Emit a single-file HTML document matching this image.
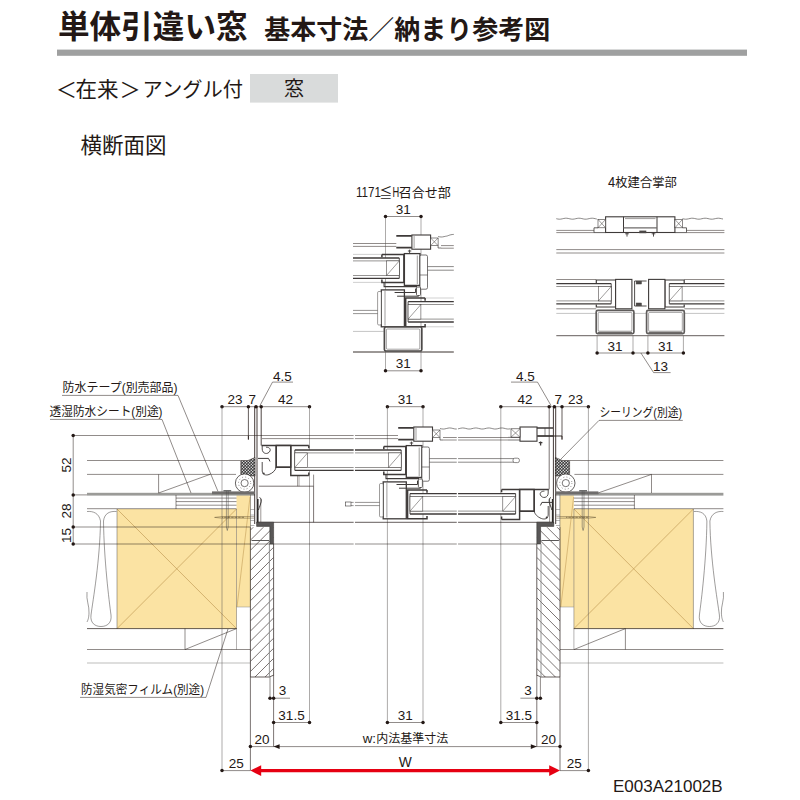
<!DOCTYPE html>
<html><head><meta charset="utf-8"><title>drawing</title>
<style>
html,body{margin:0;padding:0;background:#fff;}
body{width:800px;height:800px;overflow:hidden;font-family:"Liberation Sans",sans-serif;}
svg{display:block}
text{font-family:"Liberation Sans",sans-serif;}
text.jp{font-family:"Liberation Sans","Noto Sans CJK JP",sans-serif;}
text.dim{font-size:13.5px;fill:#231815;text-anchor:middle;}
</style></head><body>
<svg width="800" height="800" viewBox="0 0 800 800">
<rect width="800" height="800" fill="#fff"/>
<text class="jp" x="58" y="38.3" font-size="31.6" font-weight="bold" fill="#231815">単体引違い窓</text>
<text class="jp" x="264.3" y="39" font-size="26" font-weight="bold" fill="#231815">基本寸法<tspan font-weight="normal">／</tspan>納まり参考図</text>
<rect x="57" y="49.6" width="690" height="6.2" fill="#9fa0a0" stroke="none" stroke-width="0.6"/>
<text class="jp" x="56" y="96.5" font-size="21" fill="#231815">＜</text>
<text class="jp" x="75.5" y="96.5" font-size="21.5" fill="#231815">在来</text>
<text class="jp" x="119.5" y="96.5" font-size="21" fill="#231815">＞</text>
<text class="jp" x="142.5" y="96.5" font-size="20.5" fill="#231815" textLength="100.5" lengthAdjust="spacingAndGlyphs">アングル付</text>
<rect x="250" y="74" width="88" height="28.6" fill="#d9dbdb" stroke="none" stroke-width="0.6"/>
<text class="jp" x="294" y="96.3" font-size="20" fill="#231815" text-anchor="middle">窓</text>
<text class="jp" x="80.5" y="153.3" font-size="21.5" fill="#231815">横断面図</text>
<defs>
<pattern id="dots" width="3" height="3" patternUnits="userSpaceOnUse"><rect width="3" height="3" fill="#3a3a3a"/><circle cx="0.75" cy="0.75" r="0.72" fill="#f2f2f2"/><circle cx="2.25" cy="2.25" r="0.72" fill="#f2f2f2"/></pattern>
<pattern id="hatL" width="7.4" height="7.4" patternUnits="userSpaceOnUse"><rect width="7.4" height="7.4" fill="#dcdddd"/><path d="M-1 8.4L8.4 -1M-1 1L1 -1M6.4 8.4L8.4 6.4" stroke="#231815" stroke-width="0.55"/></pattern>
<pattern id="hatR" width="7.4" height="7.4" patternUnits="userSpaceOnUse"><rect width="7.4" height="7.4" fill="#dcdddd"/><path d="M-1 -1L8.4 8.4M-1 6.4L1 8.4M6.4 -1L8.4 1" stroke="#231815" stroke-width="0.55"/></pattern>
</defs>
<rect x="117" y="509" width="119.5" height="119.6" fill="#fbe3a3" stroke="none" stroke-width="0.6"/>
<rect x="236.5" y="494.5" width="13.900000000000006" height="112.5" fill="#fbe3a3" stroke="none" stroke-width="0.6"/>
<line x1="117" y1="509" x2="236.5" y2="628.6" stroke="#b8904a" stroke-width="0.6"/>
<line x1="117" y1="628.6" x2="236.5" y2="509" stroke="#b8904a" stroke-width="0.6"/>
<line x1="250" y1="497" x2="237" y2="607" stroke="#b8904a" stroke-width="0.5"/>
<path d="M117 509V628.6" stroke="#5a5655" stroke-width="0.5" fill="none"/>
<path d="M236.5 509V649.5" stroke="#5a5655" stroke-width="0.45" fill="none"/>
<rect x="573.9" y="509" width="119.5" height="119.6" fill="#fbe3a3" stroke="none" stroke-width="0.6"/>
<rect x="560.0" y="494.5" width="13.899999999999977" height="112.5" fill="#fbe3a3" stroke="none" stroke-width="0.6"/>
<line x1="693.4" y1="509" x2="573.9" y2="628.6" stroke="#b8904a" stroke-width="0.6"/>
<line x1="693.4" y1="628.6" x2="573.9" y2="509" stroke="#b8904a" stroke-width="0.6"/>
<line x1="573.6" y1="497" x2="560.8" y2="607" stroke="#b8904a" stroke-width="0.5"/>
<path d="M693.4 509V628.6" stroke="#5a5655" stroke-width="0.5" fill="none"/>
<path d="M573.9 509V649.5" stroke="#5a5655" stroke-width="0.45" fill="none"/>
<line x1="73.6" y1="435.5" x2="255" y2="435.5" stroke="#231815" stroke-width="0.5"/>
<line x1="87" y1="460.5" x2="240.6" y2="460.5" stroke="#231815" stroke-width="0.5"/>
<line x1="87" y1="474.4" x2="236" y2="474.4" stroke="#231815" stroke-width="0.5"/>
<rect x="87" y="492.8" width="168" height="2.8" fill="#9b9b98" stroke="none" stroke-width="0.6"/>
<line x1="176" y1="498.1" x2="236.5" y2="498.1" stroke="#231815" stroke-width="0.5"/>
<line x1="176" y1="501.6" x2="236.5" y2="501.6" stroke="#231815" stroke-width="0.5"/>
<line x1="176" y1="505.2" x2="236.5" y2="505.2" stroke="#231815" stroke-width="0.5"/>
<line x1="176" y1="495" x2="176" y2="509" stroke="#231815" stroke-width="0.5"/>
<line x1="87" y1="508.7" x2="236.5" y2="508.7" stroke="#231815" stroke-width="0.5"/>
<line x1="87" y1="628.6" x2="236.5" y2="628.6" stroke="#231815" stroke-width="0.7"/>
<line x1="87" y1="649.5" x2="250.4" y2="649.5" stroke="#231815" stroke-width="0.5"/>
<line x1="87" y1="663" x2="250.4" y2="663" stroke="#7a7877" stroke-width="0.5"/>
<line x1="185" y1="628.6" x2="185" y2="649.5" stroke="#231815" stroke-width="0.5"/>
<line x1="185" y1="649.5" x2="236.5" y2="628.6" stroke="#231815" stroke-width="0.5"/>
<line x1="236.5" y1="607" x2="250.4" y2="607" stroke="#898989" stroke-width="0.5"/>
<line x1="723.4" y1="460.5" x2="569.8" y2="460.5" stroke="#231815" stroke-width="0.5"/>
<line x1="723.4" y1="474.4" x2="574.4" y2="474.4" stroke="#231815" stroke-width="0.5"/>
<rect x="555.4" y="492.8" width="168.0" height="2.8" fill="#9b9b98" stroke="none" stroke-width="0.6"/>
<line x1="634.4" y1="498.1" x2="573.9" y2="498.1" stroke="#231815" stroke-width="0.5"/>
<line x1="634.4" y1="501.6" x2="573.9" y2="501.6" stroke="#231815" stroke-width="0.5"/>
<line x1="634.4" y1="505.2" x2="573.9" y2="505.2" stroke="#231815" stroke-width="0.5"/>
<line x1="634.4" y1="495" x2="634.4" y2="509" stroke="#231815" stroke-width="0.5"/>
<line x1="723.4" y1="508.7" x2="573.9" y2="508.7" stroke="#231815" stroke-width="0.5"/>
<line x1="723.4" y1="628.6" x2="573.9" y2="628.6" stroke="#231815" stroke-width="0.7"/>
<line x1="723.4" y1="649.5" x2="560.0" y2="649.5" stroke="#231815" stroke-width="0.5"/>
<line x1="723.4" y1="663" x2="560.0" y2="663" stroke="#7a7877" stroke-width="0.5"/>
<line x1="625.4" y1="628.6" x2="625.4" y2="649.5" stroke="#231815" stroke-width="0.5"/>
<line x1="574" y1="649.5" x2="625.4" y2="628.6" stroke="#231815" stroke-width="0.5"/>
<line x1="573.9" y1="607" x2="560.0" y2="607" stroke="#898989" stroke-width="0.5"/>
<line x1="158.6" y1="474.4" x2="158.6" y2="493" stroke="#231815" stroke-width="0.5"/>
<line x1="158.6" y1="493" x2="210" y2="474.4" stroke="#231815" stroke-width="0.5"/>
<line x1="651.5" y1="474.4" x2="651.5" y2="493" stroke="#231815" stroke-width="0.5"/>
<line x1="651.5" y1="474.4" x2="598" y2="493" stroke="#231815" stroke-width="0.5"/>
<line x1="73.2" y1="494.9" x2="87" y2="494.9" stroke="#231815" stroke-width="0.5"/>
<line x1="73.6" y1="527" x2="250.4" y2="527" stroke="#231815" stroke-width="0.5"/>
<line x1="73.6" y1="544" x2="250.4" y2="544" stroke="#231815" stroke-width="0.5"/>
<path d="M87 511.5C93 511 99 513 100.5 521C100 560 93 600 91 615C90 623 95 626.5 101 626.5C107 626.5 112 623 111 615C109 600 104 560 103.5 521C104.5 513 110 511 116.5 511.5" stroke="#3e3a39" stroke-width="0.5" fill="none"/>
<path d="M87 592C86 600 89.5 606 89 613C88.8 618 88 620 87 622" stroke="#3e3a39" stroke-width="0.5" fill="none"/>
<path d="M723.4 511.5C717.4 511 711.4 513 709.9 521C710.4 560 717.4 600 719.4 615C720.4 623 715.4 626.5 709.4 626.5C703.4 626.5 698.4 623 699.4 615C701.4 600 706.4 560 706.9 521C705.9 513 700.4 511 693.9 511.5" stroke="#3e3a39" stroke-width="0.5" fill="none"/>
<path d="M723.4 592C724.4 600 720.9 606 721.4 613C721.6 618 722.4 620 723.4 622" stroke="#3e3a39" stroke-width="0.5" fill="none"/>
<clipPath id="hcL"><path d="M250.4 527.2H273.6V675.2L269.2 677H250.4Z"/></clipPath>
<clipPath id="hcR"><path d="M560 527.2H536.8V675.2L541.2 677H560Z"/></clipPath>
<path d="M250.4 520.0L273.6 496.8M250.4 530.1L273.6 506.9M250.4 540.2L273.6 517.0M250.4 550.3L273.6 527.1M250.4 560.4L273.6 537.2M250.4 570.5L273.6 547.3M250.4 580.6L273.6 557.4M250.4 590.7L273.6 567.5M250.4 600.8L273.6 577.6M250.4 610.9L273.6 587.7M250.4 621.0L273.6 597.8M250.4 631.1L273.6 607.9M250.4 641.2L273.6 618.0M250.4 651.3L273.6 628.1M250.4 661.4L273.6 638.2M250.4 671.5L273.6 648.3M250.4 681.6L273.6 658.4M250.4 691.7L273.6 668.5M250.4 701.8L273.6 678.6M250.4 711.9L273.6 688.7" stroke="#231815" stroke-width="0.6" clip-path="url(#hcL)"/>
<path d="M560 520.0L536.8 496.8M560 530.1L536.8 506.9M560 540.2L536.8 517.0M560 550.3L536.8 527.1M560 560.4L536.8 537.2M560 570.5L536.8 547.3M560 580.6L536.8 557.4M560 590.7L536.8 567.5M560 600.8L536.8 577.6M560 610.9L536.8 587.7M560 621.0L536.8 597.8M560 631.1L536.8 607.9M560 641.2L536.8 618.0M560 651.3L536.8 628.1M560 661.4L536.8 638.2M560 671.5L536.8 648.3M560 681.6L536.8 658.4M560 691.7L536.8 668.5M560 701.8L536.8 678.6M560 711.9L536.8 688.7" stroke="#231815" stroke-width="0.6" clip-path="url(#hcR)"/>
<path d="M250.4 527.2V677H269.2L273.6 675.2V544" stroke="#231815" stroke-width="0.7" fill="none"/>
<path d="M560 527.2V677H541.2L536.8 675.2V544" stroke="#231815" stroke-width="0.7" fill="none"/>
<line x1="269.4" y1="544" x2="269.4" y2="677" stroke="#8a8a8a" stroke-width="0.9"/>
<line x1="541" y1="544" x2="541" y2="677" stroke="#8a8a8a" stroke-width="0.9"/>
<line x1="222" y1="406.7" x2="309.5" y2="406.7" stroke="#231815" stroke-width="0.5"/>
<line x1="387.4" y1="406.7" x2="423" y2="406.7" stroke="#231815" stroke-width="0.5"/>
<line x1="500.8" y1="406.7" x2="588.4" y2="406.7" stroke="#231815" stroke-width="0.5"/>
<circle cx="222" cy="406.7" r="1.75" fill="#231815"/>
<circle cx="248.4" cy="406.7" r="1.75" fill="#231815"/>
<circle cx="256" cy="406.7" r="1.75" fill="#231815"/>
<circle cx="261.2" cy="406.7" r="1.75" fill="#231815"/>
<circle cx="309.5" cy="406.7" r="1.75" fill="#231815"/>
<circle cx="387.4" cy="406.7" r="1.75" fill="#231815"/>
<circle cx="423" cy="406.7" r="1.75" fill="#231815"/>
<circle cx="500.8" cy="406.7" r="1.75" fill="#231815"/>
<circle cx="549.2" cy="406.7" r="1.75" fill="#231815"/>
<circle cx="554.4" cy="406.7" r="1.75" fill="#231815"/>
<circle cx="562" cy="406.7" r="1.75" fill="#231815"/>
<circle cx="588.4" cy="406.7" r="1.75" fill="#231815"/>
<line x1="222" y1="406.7" x2="222" y2="770.6" stroke="#5a5655" stroke-width="0.5"/>
<line x1="588.4" y1="406.7" x2="588.4" y2="770.6" stroke="#5a5655" stroke-width="0.5"/>
<line x1="248.4" y1="406.7" x2="248.4" y2="439.5" stroke="#231815" stroke-width="0.7"/>
<line x1="562" y1="406.7" x2="562" y2="439.5" stroke="#231815" stroke-width="0.7"/>
<line x1="261.2" y1="406.7" x2="261.2" y2="445.5" stroke="#231815" stroke-width="0.8"/>
<line x1="549.2" y1="406.7" x2="549.2" y2="489.4" stroke="#231815" stroke-width="0.6"/>
<line x1="309.5" y1="406.7" x2="309.5" y2="722.5" stroke="#5a5655" stroke-width="0.5"/>
<line x1="500.8" y1="406.7" x2="500.8" y2="722.5" stroke="#5a5655" stroke-width="0.5"/>
<line x1="387.4" y1="406.7" x2="387.4" y2="722.5" stroke="#5a5655" stroke-width="0.5"/>
<line x1="423" y1="406.7" x2="423" y2="722.5" stroke="#5a5655" stroke-width="0.5"/>
<text class="dim" x="235" y="404">23</text>
<text class="dim" x="252.3" y="404">7</text>
<text class="dim" x="285.5" y="404">42</text>
<text class="dim" x="405.2" y="404">31</text>
<text class="dim" x="525" y="404">42</text>
<text class="dim" x="558.3" y="404">7</text>
<text class="dim" x="575.5" y="404">23</text>
<text class="dim" x="282.5" y="380.6">4.5</text>
<line x1="272.5" y1="382.1" x2="293" y2="382.1" stroke="#231815" stroke-width="0.5"/>
<line x1="272.5" y1="382.1" x2="260" y2="405.5" stroke="#231815" stroke-width="0.5"/>
<text class="dim" x="525.5" y="380.6">4.5</text>
<line x1="511" y1="382.1" x2="537.5" y2="382.1" stroke="#231815" stroke-width="0.5"/>
<line x1="537.5" y1="382.1" x2="551" y2="405.5" stroke="#231815" stroke-width="0.5"/>
<line x1="73.2" y1="435.5" x2="73.2" y2="544" stroke="#231815" stroke-width="0.5"/>
<circle cx="73.2" cy="435.5" r="1.75" fill="#231815"/>
<circle cx="73.2" cy="494.9" r="1.75" fill="#231815"/>
<circle cx="73.2" cy="527" r="1.75" fill="#231815"/>
<circle cx="73.2" cy="544" r="1.75" fill="#231815"/>
<text class="dim" transform="translate(71 465) rotate(-90)" x="0" y="0">52</text>
<text class="dim" transform="translate(71 511) rotate(-90)" x="0" y="0">28</text>
<text class="dim" transform="translate(71 535.5) rotate(-90)" x="0" y="0">15</text>
<line x1="250.4" y1="677" x2="250.4" y2="770.6" stroke="#231815" stroke-width="0.6"/>
<line x1="560" y1="677" x2="560" y2="770.6" stroke="#231815" stroke-width="0.6"/>
<line x1="270" y1="677" x2="270" y2="698.2" stroke="#231815" stroke-width="0.5"/>
<line x1="273.6" y1="675" x2="273.6" y2="746.6" stroke="#231815" stroke-width="0.6"/>
<line x1="540.4" y1="677" x2="540.4" y2="698.2" stroke="#231815" stroke-width="0.5"/>
<line x1="536.8" y1="675" x2="536.8" y2="746.6" stroke="#231815" stroke-width="0.6"/>
<line x1="270" y1="698.2" x2="290" y2="698.2" stroke="#231815" stroke-width="0.5"/>
<circle cx="270" cy="698.2" r="1.75" fill="#231815"/>
<circle cx="273.6" cy="698.2" r="1.75" fill="#231815"/>
<line x1="520.4" y1="698.2" x2="540.4" y2="698.2" stroke="#231815" stroke-width="0.5"/>
<circle cx="540.4" cy="698.2" r="1.75" fill="#231815"/>
<circle cx="536.8" cy="698.2" r="1.75" fill="#231815"/>
<text class="dim" x="282.4" y="695.3">3</text>
<text class="dim" x="528" y="695.3">3</text>
<line x1="273.6" y1="722.5" x2="309.5" y2="722.5" stroke="#231815" stroke-width="0.5"/>
<circle cx="273.6" cy="722.5" r="1.75" fill="#231815"/>
<circle cx="309.5" cy="722.5" r="1.75" fill="#231815"/>
<line x1="500.8" y1="722.5" x2="536.8" y2="722.5" stroke="#231815" stroke-width="0.5"/>
<circle cx="500.8" cy="722.5" r="1.75" fill="#231815"/>
<circle cx="536.8" cy="722.5" r="1.75" fill="#231815"/>
<line x1="387.4" y1="722.5" x2="423" y2="722.5" stroke="#231815" stroke-width="0.5"/>
<circle cx="387.4" cy="722.5" r="1.75" fill="#231815"/>
<circle cx="423" cy="722.5" r="1.75" fill="#231815"/>
<text class="dim" x="291.5" y="719.6">31.5</text>
<text class="dim" x="518.8" y="719.6">31.5</text>
<text class="dim" x="405.2" y="719.6">31</text>
<line x1="250.4" y1="746.6" x2="536.8" y2="746.6" stroke="#231815" stroke-width="0.5"/>
<line x1="536.8" y1="746.6" x2="560" y2="746.6" stroke="#231815" stroke-width="0.5"/>
<circle cx="250.4" cy="746.6" r="1.75" fill="#231815"/>
<circle cx="560" cy="746.6" r="1.75" fill="#231815"/>
<path d="M273.6 746.6L279.6 744.2V749Z" fill="#231815"/>
<path d="M536.8 746.6L530.8 744.2V749Z" fill="#231815"/>
<text class="dim" x="262" y="744">20</text>
<text class="dim" x="548.4" y="744">20</text>
<text class="jp" x="376.3" y="742.6" font-size="12" fill="#231815">内法基準寸法</text>
<text x="369.3" y="743.2" font-size="13.3" fill="#231815" text-anchor="middle">w:</text>
<line x1="222" y1="770.6" x2="250.4" y2="770.6" stroke="#231815" stroke-width="0.5"/>
<line x1="560" y1="770.6" x2="588.4" y2="770.6" stroke="#231815" stroke-width="0.5"/>
<circle cx="222" cy="770.6" r="1.75" fill="#231815"/>
<circle cx="588.4" cy="770.6" r="1.75" fill="#231815"/>
<text class="dim" x="236.2" y="768.1">25</text>
<text class="dim" x="574.2" y="768.1">25</text>
<path d="M258 768.9H552.4V772.3H258Z" fill="#e60012"/>
<path d="M250.4 770.6L261.2 765.2V776Z" fill="#e60012"/>
<path d="M560 770.6L549.2 765.2V776Z" fill="#e60012"/>
<text x="405.2" y="767.2" font-size="13.8" fill="#231815" text-anchor="middle">W</text>
<text x="613" y="792" font-size="17" fill="#231815">E003A21002B</text>
<text class="jp" x="62.5" y="392" font-size="12.5" fill="#231815" textLength="115" lengthAdjust="spacingAndGlyphs">防水テープ(別売部品)</text>
<line x1="62" y1="395.4" x2="178" y2="395.4" stroke="#231815" stroke-width="0.5"/>
<line x1="178" y1="395.4" x2="218" y2="491.5" stroke="#231815" stroke-width="0.5"/>
<text class="jp" x="49.5" y="416" font-size="12.5" fill="#231815" textLength="113" lengthAdjust="spacingAndGlyphs">透湿防水シート(別途)</text>
<line x1="50" y1="419.4" x2="162" y2="419.4" stroke="#231815" stroke-width="0.5"/>
<line x1="162" y1="419.4" x2="191" y2="493" stroke="#231815" stroke-width="0.5"/>
<text class="jp" x="599.5" y="416.8" font-size="12.5" fill="#231815" textLength="82.5" lengthAdjust="spacingAndGlyphs">シーリング(別途)</text>
<line x1="599" y1="420.4" x2="682.8" y2="420.4" stroke="#231815" stroke-width="0.5"/>
<line x1="599" y1="420.4" x2="561" y2="459" stroke="#231815" stroke-width="0.5"/>
<text class="jp" x="81" y="694.2" font-size="12.5" fill="#231815" textLength="123" lengthAdjust="spacingAndGlyphs">防湿気密フィルム(別途)</text>
<line x1="80" y1="697.4" x2="206" y2="697.4" stroke="#231815" stroke-width="0.5"/>
<line x1="206" y1="697.4" x2="228" y2="629" stroke="#231815" stroke-width="0.5"/>
<line x1="255" y1="435.5" x2="398" y2="435.5" stroke="#231815" stroke-width="0.5"/>
<line x1="262" y1="438.6" x2="398" y2="438.6" stroke="#231815" stroke-width="0.5"/>
<line x1="443" y1="437.5" x2="508" y2="437.5" stroke="#231815" stroke-width="0.5"/>
<line x1="443" y1="440" x2="508" y2="440" stroke="#231815" stroke-width="0.5"/>
<line x1="258" y1="522.3" x2="552.4" y2="522.3" stroke="#231815" stroke-width="0.7"/>
<line x1="250.4" y1="544" x2="536.8" y2="544" stroke="#231815" stroke-width="0.5"/>
<line x1="254.7" y1="406.7" x2="254.7" y2="524" stroke="#231815" stroke-width="0.85"/>
<line x1="257.0" y1="406.7" x2="257.0" y2="499" stroke="#231815" stroke-width="0.85"/>
<path d="M248.4 436V439.6" stroke="#231815" stroke-width="0.8" fill="none"/>
<path d="M258.8 486.2H313.6V522.3" stroke="#231815" stroke-width="0.6" fill="none"/>
<line x1="313.6" y1="474.6" x2="313.6" y2="486.2" stroke="#231815" stroke-width="0.5"/>
<line x1="297.5" y1="475.6" x2="297.5" y2="486.2" stroke="#231815" stroke-width="0.4"/>
<line x1="299" y1="475.6" x2="299" y2="486.2" stroke="#231815" stroke-width="0.4"/>
<line x1="260.8" y1="499" x2="260.8" y2="522" stroke="#231815" stroke-width="0.45"/>
<path d="M257.6 499V523.4" stroke="#2b2827" stroke-width="1.9" fill="none"/>
<path d="M259.5 497.5C261.5 498 261.8 501 260.5 504C259.6 507 259 508 258.5 510" stroke="#2b2827" stroke-width="0.9" fill="none"/>
<path d="M256.6 522.2H273.6V544H269.8V526.4H256.6Z" fill="#595757" stroke="#2b2827" stroke-width="0.5"/>
<path d="M214.6 517.4L222 516.6H254M214.6 517.4L222 518.2H254" stroke="#5a4a2a" stroke-width="0.45" fill="none"/>
<line x1="222.5" y1="517.4" x2="244" y2="517.4" stroke="#5a4a2a" stroke-width="1.4" stroke-dasharray="0.5 0.9"/>
<line x1="250.5" y1="494.5" x2="250.5" y2="527.5" stroke="#4a4a4a" stroke-width="0.5"/>
<line x1="250.5" y1="509.5" x2="254.5" y2="509.5" stroke="#4a4a4a" stroke-width="0.4"/>
<line x1="250.5" y1="515" x2="254.5" y2="515" stroke="#4a4a4a" stroke-width="0.4"/>
<line x1="250.5" y1="520.5" x2="254.5" y2="520.5" stroke="#4a4a4a" stroke-width="0.4"/>
<line x1="250.5" y1="525.5" x2="254.5" y2="525.5" stroke="#4a4a4a" stroke-width="0.4"/>
<line x1="251.5" y1="540.5" x2="269" y2="540.5" stroke="#595757" stroke-width="1.0"/>
<path d="M255 457.5L248 460.5H240.8V474.2L246 476H255Z" fill="url(#dots)" stroke="#231815" stroke-width="0.5"/>
<circle cx="244.6" cy="483.1" r="9.2" fill="#fff" stroke="#3e3a39" stroke-width="0.8"/>
<circle cx="244.6" cy="483.1" r="6.1" fill="none" stroke="#3e3a39" stroke-width="0.7" stroke-dasharray="0.8 2.4"/>
<circle cx="244.6" cy="483.1" r="3.6" fill="#fff" stroke="#3e3a39" stroke-width="0.7"/>
<rect x="212" y="491.4" width="43" height="2.9" fill="#6f6d6c" stroke="none" stroke-width="0.6"/>
<path d="M226.4 491V527L227.3 530.5L228.2 527V491" stroke="#4a4a4a" stroke-width="0.5" fill="none"/>
<line x1="223.4" y1="490.8" x2="231.2" y2="490.8" stroke="#4a4a4a" stroke-width="1.2"/>
<line x1="555.7" y1="406.7" x2="555.7" y2="524" stroke="#231815" stroke-width="0.85"/>
<line x1="553.4" y1="406.7" x2="553.4" y2="499" stroke="#231815" stroke-width="0.85"/>
<path d="M562.0 436V439.6" stroke="#231815" stroke-width="0.8" fill="none"/>
<line x1="549.6" y1="499" x2="549.6" y2="522" stroke="#231815" stroke-width="0.45"/>
<path d="M552.8 499V523.4" stroke="#2b2827" stroke-width="1.9" fill="none"/>
<path d="M550.9 497.5C548.9 498 548.6 501 549.9 504C550.8 507 551.4 508 551.9 510" stroke="#2b2827" stroke-width="0.9" fill="none"/>
<path d="M553.8 522.2H536.8V544H540.6V526.4H553.8Z" fill="#595757" stroke="#2b2827" stroke-width="0.5"/>
<path d="M595.8 517.4L588.4 516.6H556.4M595.8 517.4L588.4 518.2H556.4" stroke="#5a4a2a" stroke-width="0.45" fill="none"/>
<line x1="587.9" y1="517.4" x2="566.4" y2="517.4" stroke="#5a4a2a" stroke-width="1.4" stroke-dasharray="0.5 0.9"/>
<line x1="559.9" y1="494.5" x2="559.9" y2="527.5" stroke="#4a4a4a" stroke-width="0.5"/>
<line x1="559.9" y1="509.5" x2="555.9" y2="509.5" stroke="#4a4a4a" stroke-width="0.4"/>
<line x1="559.9" y1="515" x2="555.9" y2="515" stroke="#4a4a4a" stroke-width="0.4"/>
<line x1="559.9" y1="520.5" x2="555.9" y2="520.5" stroke="#4a4a4a" stroke-width="0.4"/>
<line x1="559.9" y1="525.5" x2="555.9" y2="525.5" stroke="#4a4a4a" stroke-width="0.4"/>
<line x1="558.9" y1="540.5" x2="541.4" y2="540.5" stroke="#595757" stroke-width="1.0"/>
<path d="M555.4 457.5L562.4 460.5H569.6V474.2L564.4 476H555.4Z" fill="url(#dots)" stroke="#231815" stroke-width="0.5"/>
<circle cx="565.8" cy="483.1" r="9.2" fill="#fff" stroke="#3e3a39" stroke-width="0.8"/>
<circle cx="565.8" cy="483.1" r="6.1" fill="none" stroke="#3e3a39" stroke-width="0.7" stroke-dasharray="0.8 2.4"/>
<circle cx="565.8" cy="483.1" r="3.6" fill="#fff" stroke="#3e3a39" stroke-width="0.7"/>
<rect x="555.4" y="491.4" width="43.0" height="2.9" fill="#6f6d6c" stroke="none" stroke-width="0.6"/>
<path d="M584.0 491V527L583.1 530.5L582.2 527V491" stroke="#4a4a4a" stroke-width="0.5" fill="none"/>
<line x1="587.0" y1="490.8" x2="579.2" y2="490.8" stroke="#4a4a4a" stroke-width="1.2"/>
<line x1="538" y1="436" x2="562" y2="436" stroke="#231815" stroke-width="0.9"/>
<path d="M261.6 445.4H308.8M276.2 445.4V467.2H291M290.8 445.4V475.4H308.8" stroke="#3e3a39" stroke-width="1.45" fill="none"/>
<rect x="276.2" y="445.4" width="14.6" height="21.8" fill="none" stroke="#3e3a39" stroke-width="1.3"/>
<path d="M308.8 445.4V448.2M308.8 475.4V472.4" stroke="#3e3a39" stroke-width="1.45" fill="none"/>
<path d="M262.2 445.4V449C262.2 454 268 455 270 451C271 448.5 268.5 447 266 447.2" stroke="#3e3a39" stroke-width="0.9" fill="none"/>
<path d="M258 458.4H268.5L270 461.5" stroke="#3e3a39" stroke-width="1.0" fill="none"/>
<path d="M262.2 462V471C262.5 475 266 475.6 269 474.5C273 473 275.8 470 276.2 467" stroke="#3e3a39" stroke-width="0.9" fill="none"/>
<circle cx="263.7" cy="473.6" r="1" fill="#3e3a39"/>
<rect x="294.8" y="450.0" width="106.39999999999998" height="20.4" fill="#fff" stroke="none" stroke-width="0.6"/>
<line x1="294.8" y1="450.0" x2="401.2" y2="450.0" stroke="#3e3a39" stroke-width="1.3"/>
<line x1="294.8" y1="452.9" x2="401.2" y2="452.9" stroke="#3e3a39" stroke-width="0.55"/>
<line x1="294.8" y1="467.5" x2="401.2" y2="467.5" stroke="#3e3a39" stroke-width="0.55"/>
<line x1="294.8" y1="470.4" x2="401.2" y2="470.4" stroke="#3e3a39" stroke-width="1.3"/>
<line x1="294.8" y1="450.0" x2="294.8" y2="470.4" stroke="#3e3a39" stroke-width="0.9"/>
<rect x="294.8" y="452.9" width="12.8" height="14.6" fill="#fff" stroke="#3e3a39" stroke-width="0.55"/>
<line x1="294.8" y1="467.5" x2="307.6" y2="452.9" stroke="#3e3a39" stroke-width="0.5"/>
<line x1="401.2" y1="450.0" x2="401.2" y2="470.4" stroke="#3e3a39" stroke-width="0.9"/>
<rect x="388.4" y="452.9" width="12.8" height="14.6" fill="#fff" stroke="#3e3a39" stroke-width="0.55"/>
<line x1="388.4" y1="467.5" x2="401.2" y2="452.9" stroke="#3e3a39" stroke-width="0.5"/>
<g transform="translate(0 0)">
<path d="M383.8 446.4V449.2M383.8 446.4H405.8V474.4H383.8V471.6" stroke="#3e3a39" stroke-width="1.5" fill="none"/>
<path d="M386 474.4V478.6H419" stroke="#3e3a39" stroke-width="1.1" fill="none"/>
<rect x="406.3" y="445.6" width="15.6" height="31.8" fill="#fff" stroke="#3e3a39" stroke-width="1.3"/>
<line x1="419.2" y1="447.5" x2="419.2" y2="476" stroke="#3e3a39" stroke-width="0.5"/>
<rect x="421.9" y="447" width="7.5" height="34.2" fill="#fff" stroke="#3e3a39" stroke-width="0.7" rx="1.6"/>
<line x1="421.9" y1="467" x2="429.4" y2="467" stroke="#3e3a39" stroke-width="0.6"/>
</g>
<line x1="429.4" y1="458.6" x2="514" y2="458.6" stroke="#3e3a39" stroke-width="0.6"/>
<line x1="429.4" y1="462.2" x2="514" y2="462.2" stroke="#3e3a39" stroke-width="0.6"/>
<rect x="513" y="458.2" width="6.4" height="4.4" fill="#fff" stroke="#3e3a39" stroke-width="0.6" rx="1.8"/>
<path d="M548.8 489.4H501.6M534.2 489.4V511.2H519.4M519.6 489.4V519.4H501.6" stroke="#3e3a39" stroke-width="1.45" fill="none"/>
<rect x="519.6" y="489.4" width="14.6" height="21.8" fill="none" stroke="#3e3a39" stroke-width="1.3"/>
<path d="M501.6 489.4V492.2M501.6 519.4V516.4" stroke="#3e3a39" stroke-width="1.45" fill="none"/>
<path d="M548.2 489.4V493C548.2 498 542.4 499 540.4 495C539.4 492.5 541.9 491 544.4 491.2" stroke="#3e3a39" stroke-width="0.9" fill="none"/>
<path d="M552.4 502.4H541.9L540.4 505.5" stroke="#3e3a39" stroke-width="1.0" fill="none"/>
<path d="M548.2 506V515C547.9 519 544.4 519.6 541.4 518.5C537.4 517 534.6 514 534.2 511" stroke="#3e3a39" stroke-width="0.9" fill="none"/>
<circle cx="546.7" cy="517.6" r="1" fill="#3e3a39"/>
<rect x="410" y="493.6" width="105.60000000000002" height="20.4" fill="#fff" stroke="none" stroke-width="0.6"/>
<line x1="410" y1="493.6" x2="515.6" y2="493.6" stroke="#3e3a39" stroke-width="1.3"/>
<line x1="410" y1="496.5" x2="515.6" y2="496.5" stroke="#3e3a39" stroke-width="0.55"/>
<line x1="410" y1="511.1" x2="515.6" y2="511.1" stroke="#3e3a39" stroke-width="0.55"/>
<line x1="410" y1="514.0" x2="515.6" y2="514.0" stroke="#3e3a39" stroke-width="1.3"/>
<line x1="410" y1="493.6" x2="410" y2="514.0" stroke="#3e3a39" stroke-width="0.9"/>
<rect x="410" y="496.5" width="12.8" height="14.6" fill="#fff" stroke="#3e3a39" stroke-width="0.55"/>
<line x1="410" y1="511.1" x2="422.8" y2="496.5" stroke="#3e3a39" stroke-width="0.5"/>
<line x1="515.6" y1="493.6" x2="515.6" y2="514.0" stroke="#3e3a39" stroke-width="0.9"/>
<rect x="502.8" y="496.5" width="12.8" height="14.6" fill="#fff" stroke="#3e3a39" stroke-width="0.55"/>
<line x1="502.8" y1="511.1" x2="515.6" y2="496.5" stroke="#3e3a39" stroke-width="0.5"/>
<g transform="translate(0 0)">
<path d="M427 490V492.8M427 490H407.6V518.8H427V516" stroke="#3e3a39" stroke-width="1.5" fill="none"/>
<rect x="383.2" y="481.9" width="23.1" height="36.9" fill="#fff" stroke="#3e3a39" stroke-width="1.3"/>
<line x1="386.9" y1="483" x2="386.9" y2="517.6" stroke="#3e3a39" stroke-width="0.5"/>
<rect x="379.5" y="483.5" width="3.7" height="33.5" fill="#fff" stroke="#3e3a39" stroke-width="0.5" rx="1.2"/>
<path d="M396.5 484.5H417.5V480.6M399 488.2H420.5V481" stroke="#3e3a39" stroke-width="1.0" fill="none"/>
<rect x="418.4" y="479" width="4.0" height="8.5" fill="#fff" stroke="#3e3a39" stroke-width="0.8" rx="1"/>
</g>
<line x1="351" y1="502.4" x2="379.5" y2="502.4" stroke="#3e3a39" stroke-width="0.55"/>
<line x1="351" y1="505.6" x2="379.5" y2="505.6" stroke="#3e3a39" stroke-width="0.55"/>
<rect x="345.4" y="502" width="5.6" height="4" fill="#fff" stroke="#3e3a39" stroke-width="0.6"/>
<g transform="translate(0 0)">
<path d="M398.2 427.9H413.8M398.2 439.6H413.8" stroke="#3e3a39" stroke-width="1.6" fill="none"/>
<rect x="413.8" y="427" width="18.7" height="14.2" fill="#fff" stroke="#3e3a39" stroke-width="1.1"/>
<line x1="416" y1="428" x2="416" y2="440" stroke="#3e3a39" stroke-width="0.5"/>
<rect x="432.5" y="430" width="7.5" height="7.6" fill="#fff" stroke="#3e3a39" stroke-width="0.6"/>
<path d="M432.5 430L440 437.6M440 430L432.5 437.6" stroke="#3e3a39" stroke-width="0.5" fill="none"/>
<path d="M440 437.6V440H443" stroke="#3e3a39" stroke-width="0.7" fill="none"/>
<path d="M411.5 441.6V446M409.8 443H413.2" stroke="#3e3a39" stroke-width="0.9" fill="none"/>
</g>
<path d="M440.0 428.50L441.6 428.88L443.2 429.05L444.8 428.90L446.4 428.53L448.0 428.14L449.6 427.95L451.2 428.08L452.8 428.45L454.4 428.84L456.0 429.05L457.6 428.94L459.2 428.58L460.8 428.18L462.4 427.96L464.0 428.05L465.6 428.39L467.2 428.80L468.8 429.04L470.4 428.97L472.0 428.63L473.6 428.22L475.2 427.97L476.8 428.02L478.4 428.34L480.0 428.76L481.6 429.02L483.2 428.99L484.8 428.68L486.4 428.27L488.0 427.99L489.6 428.00L491.2 428.29L492.8 428.71L494.4 429.00L496.0 429.01L497.6 428.73L499.2 428.32L500.8 428.01L502.4 427.98L504.0 428.24L505.6 428.66L507.2 428.98L508.8 429.03L510.4 428.78" stroke="#3e3a39" stroke-width="0.6" fill="none"/>
<rect x="520" y="427" width="17" height="14.2" fill="#fff" stroke="#3e3a39" stroke-width="1.1"/>
<rect x="511" y="428.8" width="9" height="8.4" fill="#fff" stroke="#3e3a39" stroke-width="0.6"/>
<path d="M511 428.8L520 437.2M520 428.8L511 437.2" stroke="#3e3a39" stroke-width="0.5" fill="none"/>
<path d="M508 437.4H520M508 440H520" stroke="#3e3a39" stroke-width="0.7" fill="none"/>
<path d="M537 428H553M537 436H553M540.6 441.4V445.6M538.8 442.6H542.4" stroke="#3e3a39" stroke-width="1.3" fill="none"/>
<line x1="545" y1="428" x2="545" y2="436" stroke="#3e3a39" stroke-width="0.6"/>
<line x1="354.3" y1="426" x2="354.3" y2="548" stroke="#fff" stroke-width="1.3"/>
<line x1="457.4" y1="426" x2="457.4" y2="548" stroke="#fff" stroke-width="1.3"/>
<line x1="353" y1="243.5" x2="396.3" y2="243.5" stroke="#231815" stroke-width="0.5"/>
<line x1="353" y1="246.4" x2="396.3" y2="246.4" stroke="#231815" stroke-width="0.5"/>
<line x1="441" y1="245.6" x2="453.8" y2="245.6" stroke="#231815" stroke-width="0.5"/>
<line x1="441" y1="248.2" x2="453.8" y2="248.2" stroke="#231815" stroke-width="0.5"/>
<line x1="353" y1="254.4" x2="381.9" y2="254.4" stroke="#898989" stroke-width="0.4"/>
<line x1="353" y1="282.4" x2="381.9" y2="282.4" stroke="#898989" stroke-width="0.4"/>
<line x1="425" y1="298" x2="453.8" y2="298" stroke="#898989" stroke-width="0.4"/>
<line x1="425" y1="326.8" x2="453.8" y2="326.8" stroke="#898989" stroke-width="0.4"/>
<line x1="353" y1="331.4" x2="383.8" y2="331.4" stroke="#898989" stroke-width="0.5"/>
<line x1="353" y1="352" x2="453.8" y2="352" stroke="#231815" stroke-width="0.9"/>
<line x1="385.5" y1="216.5" x2="385.5" y2="370.8" stroke="#5a5655" stroke-width="0.5"/>
<circle cx="385.5" cy="216.5" r="1.75" fill="#231815"/>
<circle cx="385.5" cy="370.8" r="1.75" fill="#231815"/>
<line x1="421" y1="216.5" x2="421" y2="370.8" stroke="#5a5655" stroke-width="0.5"/>
<circle cx="421" cy="216.5" r="1.75" fill="#231815"/>
<circle cx="421" cy="370.8" r="1.75" fill="#231815"/>
<line x1="385.5" y1="216.5" x2="421" y2="216.5" stroke="#231815" stroke-width="0.5"/>
<line x1="385.5" y1="370.8" x2="421" y2="370.8" stroke="#231815" stroke-width="0.5"/>
<text class="dim" x="403.2" y="213.6">31</text>
<text class="dim" x="403.2" y="368">31</text>
<rect x="353" y="258.0" width="46.30000000000001" height="20.4" fill="#fff" stroke="none" stroke-width="0.6"/>
<line x1="353" y1="258.0" x2="399.3" y2="258.0" stroke="#3e3a39" stroke-width="1.3"/>
<line x1="353" y1="260.9" x2="399.3" y2="260.9" stroke="#3e3a39" stroke-width="0.55"/>
<line x1="353" y1="275.5" x2="399.3" y2="275.5" stroke="#3e3a39" stroke-width="0.55"/>
<line x1="353" y1="278.4" x2="399.3" y2="278.4" stroke="#3e3a39" stroke-width="1.3"/>
<line x1="399.3" y1="258.0" x2="399.3" y2="278.4" stroke="#3e3a39" stroke-width="0.9"/>
<rect x="386.5" y="260.9" width="12.8" height="14.6" fill="#fff" stroke="#3e3a39" stroke-width="0.55"/>
<line x1="386.5" y1="275.5" x2="399.3" y2="260.9" stroke="#3e3a39" stroke-width="0.5"/>
<g transform="translate(-1.9 -192)">
<path d="M383.8 446.4V449.2M383.8 446.4H405.8V474.4H383.8V471.6" stroke="#3e3a39" stroke-width="1.5" fill="none"/>
<path d="M386 474.4V478.6H419" stroke="#3e3a39" stroke-width="1.1" fill="none"/>
<rect x="406.3" y="445.6" width="15.6" height="31.8" fill="#fff" stroke="#3e3a39" stroke-width="1.3"/>
<line x1="419.2" y1="447.5" x2="419.2" y2="476" stroke="#3e3a39" stroke-width="0.5"/>
<rect x="421.9" y="447" width="7.5" height="34.2" fill="#fff" stroke="#3e3a39" stroke-width="0.7" rx="1.6"/>
<line x1="421.9" y1="467" x2="429.4" y2="467" stroke="#3e3a39" stroke-width="0.6"/>
</g>
<line x1="427.5" y1="266.6" x2="453.8" y2="266.6" stroke="#3e3a39" stroke-width="0.6"/>
<line x1="427.5" y1="270.2" x2="453.8" y2="270.2" stroke="#3e3a39" stroke-width="0.6"/>
<rect x="408.1" y="301.6" width="45.69999999999999" height="20.4" fill="#fff" stroke="none" stroke-width="0.6"/>
<line x1="408.1" y1="301.6" x2="453.8" y2="301.6" stroke="#3e3a39" stroke-width="1.3"/>
<line x1="408.1" y1="304.5" x2="453.8" y2="304.5" stroke="#3e3a39" stroke-width="0.55"/>
<line x1="408.1" y1="319.1" x2="453.8" y2="319.1" stroke="#3e3a39" stroke-width="0.55"/>
<line x1="408.1" y1="322.0" x2="453.8" y2="322.0" stroke="#3e3a39" stroke-width="1.3"/>
<line x1="408.1" y1="301.6" x2="408.1" y2="322.0" stroke="#3e3a39" stroke-width="0.9"/>
<rect x="408.1" y="304.5" width="12.8" height="14.6" fill="#fff" stroke="#3e3a39" stroke-width="0.55"/>
<line x1="408.1" y1="319.1" x2="420.90000000000003" y2="304.5" stroke="#3e3a39" stroke-width="0.5"/>
<g transform="translate(-1.9 -192)">
<path d="M427 490V492.8M427 490H407.6V518.8H427V516" stroke="#3e3a39" stroke-width="1.5" fill="none"/>
<rect x="383.2" y="481.9" width="23.1" height="36.9" fill="#fff" stroke="#3e3a39" stroke-width="1.3"/>
<line x1="386.9" y1="483" x2="386.9" y2="517.6" stroke="#3e3a39" stroke-width="0.5"/>
<rect x="379.5" y="483.5" width="3.7" height="33.5" fill="#fff" stroke="#3e3a39" stroke-width="0.5" rx="1.2"/>
<path d="M396.5 484.5H417.5V480.6M399 488.2H420.5V481" stroke="#3e3a39" stroke-width="1.0" fill="none"/>
<rect x="418.4" y="479" width="4.0" height="8.5" fill="#fff" stroke="#3e3a39" stroke-width="0.8" rx="1"/>
</g>
<line x1="353" y1="310.4" x2="377.6" y2="310.4" stroke="#3e3a39" stroke-width="0.55"/>
<line x1="353" y1="313.6" x2="377.6" y2="313.6" stroke="#3e3a39" stroke-width="0.55"/>
<rect x="384.4" y="327" width="37.4" height="24" fill="#fff" stroke="#4c4948" stroke-width="1.7" rx="1.5"/>
<rect x="386.4" y="329" width="33.4" height="20.2" fill="none" stroke="#4c4948" stroke-width="0.5" rx="1"/>
<g transform="translate(-1.9 -192)">
<path d="M398.2 427.9H413.8M398.2 439.6H413.8" stroke="#3e3a39" stroke-width="1.6" fill="none"/>
<rect x="413.8" y="427" width="18.7" height="14.2" fill="#fff" stroke="#3e3a39" stroke-width="1.1"/>
<line x1="416" y1="428" x2="416" y2="440" stroke="#3e3a39" stroke-width="0.5"/>
<rect x="432.5" y="430" width="7.5" height="7.6" fill="#fff" stroke="#3e3a39" stroke-width="0.6"/>
<path d="M432.5 430L440 437.6M440 430L432.5 437.6" stroke="#3e3a39" stroke-width="0.5" fill="none"/>
<path d="M440 437.6V440H443" stroke="#3e3a39" stroke-width="0.7" fill="none"/>
<path d="M411.5 441.6V446M409.8 443H413.2" stroke="#3e3a39" stroke-width="0.9" fill="none"/>
</g>
<path d="M438.1 236.50L439.6 236.83L441.1 237.00L442.6 236.91L444.1 236.62L445.6 236.27C448.5 236 449 234.6 453.8 234.4" stroke="#3e3a39" stroke-width="0.6" fill="none"/>
<text x="356" y="197.4" font-size="14.5" fill="#231815" textLength="25" lengthAdjust="spacingAndGlyphs">1171</text>
<text class="jp" x="379.3" y="197.2" font-size="13" fill="#231815">≦</text>
<text x="392.5" y="197.4" font-size="14.5" fill="#231815" textLength="6.7" lengthAdjust="spacingAndGlyphs">H</text>
<text class="jp" x="398.7" y="196.8" font-size="13" fill="#231815">召合せ部</text>
<line x1="556.3" y1="230.4" x2="594" y2="230.4" stroke="#231815" stroke-width="0.5"/>
<line x1="556.3" y1="232.6" x2="594" y2="232.6" stroke="#231815" stroke-width="0.5"/>
<line x1="686.5" y1="230.4" x2="724.4" y2="230.4" stroke="#231815" stroke-width="0.5"/>
<line x1="686.5" y1="232.6" x2="724.4" y2="232.6" stroke="#231815" stroke-width="0.5"/>
<line x1="556.3" y1="249.6" x2="724.4" y2="249.6" stroke="#231815" stroke-width="0.5"/>
<line x1="556.3" y1="253" x2="724.4" y2="253" stroke="#231815" stroke-width="0.5"/>
<line x1="556.3" y1="279.5" x2="596.2" y2="279.5" stroke="#231815" stroke-width="0.5"/>
<line x1="556.3" y1="308.8" x2="596.2" y2="308.8" stroke="#231815" stroke-width="0.5"/>
<line x1="684.3" y1="279.5" x2="724.4" y2="279.5" stroke="#231815" stroke-width="0.5"/>
<line x1="684.3" y1="308.8" x2="724.4" y2="308.8" stroke="#231815" stroke-width="0.5"/>
<line x1="556.3" y1="313.4" x2="724.4" y2="313.4" stroke="#898989" stroke-width="0.5"/>
<line x1="556.3" y1="335.7" x2="724.4" y2="335.7" stroke="#231815" stroke-width="0.7"/>
<path d="M556.3 218.70L557.8 219.03L559.3 219.20L560.8 219.11L562.3 218.82L563.8 218.47L565.3 218.23L566.8 218.23L568.3 218.47L569.8 218.82L571.3 219.11L572.8 219.20L574.3 219.03L575.8 218.70L577.3 218.37L578.8 218.20L580.3 218.29L581.8 218.58L583.3 218.93L584.8 219.17L586.3 219.17L587.8 218.93L589.3 218.58L590.8 218.29L592.3 218.20L593.8 218.37L595.3 218.70L596.8 219.03" stroke="#3e3a39" stroke-width="0.6" fill="none"/>
<path d="M682.5 218.70L684.0 219.03L685.5 219.20L687.0 219.11L688.5 218.82L690.0 218.47L691.5 218.23L693.0 218.23L694.5 218.47L696.0 218.82L697.5 219.11L699.0 219.20L700.5 219.03L702.0 218.70L703.5 218.37L705.0 218.20L706.5 218.29L708.0 218.58L709.5 218.93L711.0 219.17L712.5 219.17L714.0 218.93L715.5 218.58L717.0 218.29L718.5 218.20L720.0 218.37L721.5 218.70L723.0 219.03" stroke="#3e3a39" stroke-width="0.6" fill="none"/>
<rect x="605.6" y="216.8" width="69.3" height="15.7" fill="#fff" stroke="#3e3a39" stroke-width="1.1"/>
<line x1="623.5" y1="216.8" x2="623.5" y2="232.5" stroke="#3e3a39" stroke-width="1.0"/>
<line x1="657.0" y1="216.8" x2="657.0" y2="232.5" stroke="#3e3a39" stroke-width="1.0"/>
<line x1="623.5" y1="227.8" x2="657.0" y2="227.8" stroke="#6e6b6a" stroke-width="1.2"/>
<line x1="625" y1="218.6" x2="655.5" y2="218.6" stroke="#3e3a39" stroke-width="0.5"/>
<rect x="598" y="219.4" width="7.6" height="8.4" fill="#fff" stroke="#3e3a39" stroke-width="0.6"/>
<path d="M598 219.4L605.6 227.8M605.6 219.4L598 227.8" stroke="#3e3a39" stroke-width="0.5" fill="none"/>
<path d="M598 227.8H594V232.6H605.6" stroke="#3e3a39" stroke-width="0.8" fill="none"/>
<path d="M627 232.6V236.6M625.2 233.8H628.8" stroke="#3e3a39" stroke-width="0.9" fill="none"/>
<rect x="674.9" y="219.4" width="7.6" height="8.4" fill="#fff" stroke="#3e3a39" stroke-width="0.6"/>
<path d="M682.5 219.4L674.9 227.8M674.9 219.4L682.5 227.8" stroke="#3e3a39" stroke-width="0.5" fill="none"/>
<path d="M682.5 227.8H686.5V232.6H674.9" stroke="#3e3a39" stroke-width="0.8" fill="none"/>
<path d="M653.5 232.6V236.6M655.3 233.8H651.7" stroke="#3e3a39" stroke-width="0.9" fill="none"/>
<rect x="639.3" y="230.6" width="7" height="2.6" fill="#4c4948" stroke="none" stroke-width="0.6"/>
<rect x="556.3" y="283.6" width="54.90000000000009" height="20.2" fill="#fff" stroke="none" stroke-width="0.6"/>
<line x1="556.3" y1="283.6" x2="611.2" y2="283.6" stroke="#3e3a39" stroke-width="1.3"/>
<line x1="556.3" y1="286.5" x2="611.2" y2="286.5" stroke="#3e3a39" stroke-width="0.55"/>
<line x1="556.3" y1="300.90000000000003" x2="611.2" y2="300.90000000000003" stroke="#3e3a39" stroke-width="0.55"/>
<line x1="556.3" y1="303.8" x2="611.2" y2="303.8" stroke="#3e3a39" stroke-width="1.3"/>
<line x1="611.2" y1="283.6" x2="611.2" y2="303.8" stroke="#3e3a39" stroke-width="0.9"/>
<rect x="598.4" y="286.5" width="12.8" height="14.4" fill="#fff" stroke="#3e3a39" stroke-width="0.55"/>
<line x1="598.4000000000001" y1="300.90000000000003" x2="611.2" y2="286.5" stroke="#3e3a39" stroke-width="0.5"/>
<rect x="669.3" y="283.6" width="55.10000000000002" height="20.2" fill="#fff" stroke="none" stroke-width="0.6"/>
<line x1="669.3" y1="283.6" x2="724.4" y2="283.6" stroke="#3e3a39" stroke-width="1.3"/>
<line x1="669.3" y1="286.5" x2="724.4" y2="286.5" stroke="#3e3a39" stroke-width="0.55"/>
<line x1="669.3" y1="300.90000000000003" x2="724.4" y2="300.90000000000003" stroke="#3e3a39" stroke-width="0.55"/>
<line x1="669.3" y1="303.8" x2="724.4" y2="303.8" stroke="#3e3a39" stroke-width="1.3"/>
<line x1="669.3" y1="283.6" x2="669.3" y2="303.8" stroke="#3e3a39" stroke-width="0.9"/>
<rect x="669.3" y="286.5" width="12.8" height="14.4" fill="#fff" stroke="#3e3a39" stroke-width="0.55"/>
<line x1="669.3" y1="300.90000000000003" x2="682.0999999999999" y2="286.5" stroke="#3e3a39" stroke-width="0.5"/>
<path d="M596.3 283V280H615.6V307H596.3V304.4" stroke="#3e3a39" stroke-width="1.2" fill="none"/>
<rect x="615.6" y="279.4" width="16.3" height="29.4" fill="#fff" stroke="#3e3a39" stroke-width="1.1"/>
<rect x="596.2" y="310.4" width="37.7" height="23.2" fill="#fff" stroke="#5f5c5b" stroke-width="1.7" rx="1.5"/>
<rect x="598.2" y="312.4" width="33.7" height="18.8" fill="none" stroke="#4c4948" stroke-width="0.5" rx="1"/>
<line x1="598" y1="332.6" x2="632" y2="332.6" stroke="#6e6b6a" stroke-width="1.6"/>
<path d="M684.2 283V280H664.9V307H684.2V304.4" stroke="#3e3a39" stroke-width="1.2" fill="none"/>
<rect x="648.6" y="279.4" width="16.3" height="29.4" fill="#fff" stroke="#3e3a39" stroke-width="1.1"/>
<rect x="646.6" y="310.4" width="37.7" height="23.2" fill="#fff" stroke="#5f5c5b" stroke-width="1.7" rx="1.5"/>
<rect x="648.6" y="312.4" width="33.7" height="18.8" fill="none" stroke="#4c4948" stroke-width="0.5" rx="1"/>
<line x1="682.5" y1="332.6" x2="648.5" y2="332.6" stroke="#6e6b6a" stroke-width="1.6"/>
<path d="M646.6 281H634.6V306H646.6" stroke="#3e3a39" stroke-width="0.9" fill="none"/>
<rect x="636.2" y="281.2" width="5.2" height="2.8" fill="#4c4948" stroke="#3e3a39" stroke-width="0.5"/>
<rect x="636.2" y="303" width="5.2" height="2.8" fill="#4c4948" stroke="#3e3a39" stroke-width="0.5"/>
<line x1="597.1" y1="335.7" x2="597.1" y2="353" stroke="#5a5655" stroke-width="0.5"/>
<circle cx="597.1" cy="353" r="1.75" fill="#231815"/>
<line x1="633" y1="335.7" x2="633" y2="353" stroke="#5a5655" stroke-width="0.5"/>
<circle cx="633" cy="353" r="1.75" fill="#231815"/>
<line x1="647.9" y1="335.7" x2="647.9" y2="353" stroke="#5a5655" stroke-width="0.5"/>
<circle cx="647.9" cy="353" r="1.75" fill="#231815"/>
<line x1="683.4" y1="335.7" x2="683.4" y2="353" stroke="#5a5655" stroke-width="0.5"/>
<circle cx="683.4" cy="353" r="1.75" fill="#231815"/>
<line x1="597.1" y1="353" x2="683.4" y2="353" stroke="#231815" stroke-width="0.5"/>
<text class="dim" x="615" y="350.8">31</text>
<text class="dim" x="665.6" y="350.8">31</text>
<line x1="640.9" y1="353" x2="653.6" y2="372.6" stroke="#231815" stroke-width="0.5"/>
<line x1="653.6" y1="372.6" x2="670.6" y2="372.6" stroke="#231815" stroke-width="0.5"/>
<text class="dim" x="660.4" y="370.8">13</text>
<text x="607.9" y="187.4" font-size="14.5" fill="#231815" textLength="7.2" lengthAdjust="spacingAndGlyphs">4</text>
<text class="jp" x="615.3" y="186.9" font-size="12.3" fill="#231815">枚建合掌部</text>
</svg>
</body></html>
